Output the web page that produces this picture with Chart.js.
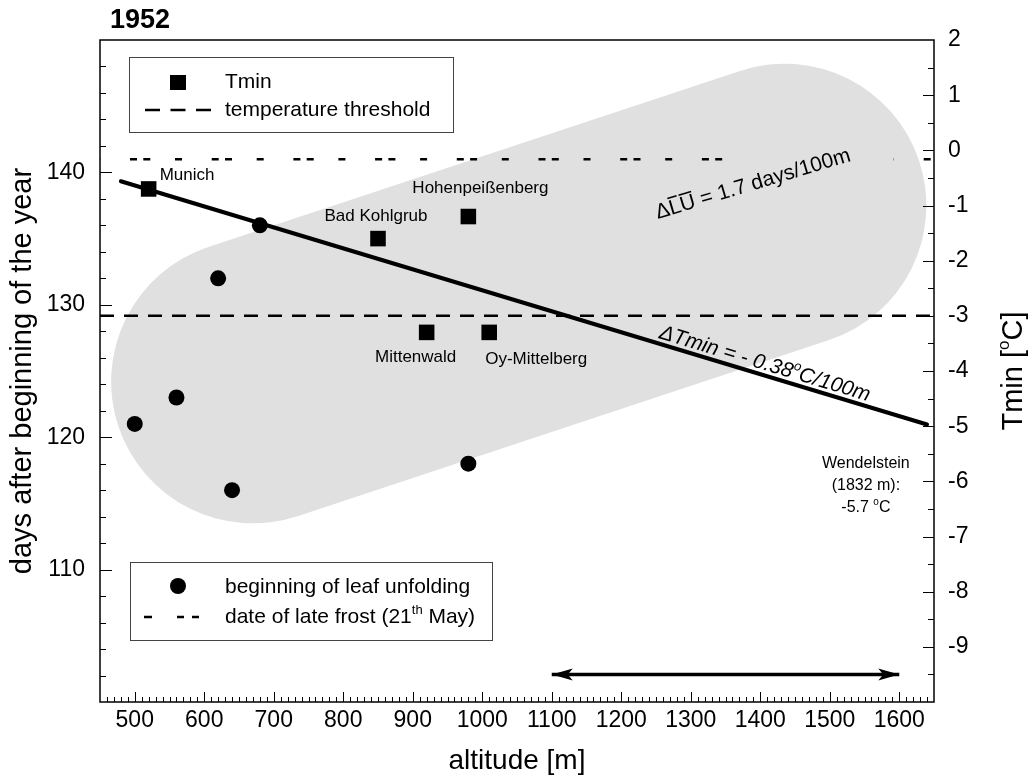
<!DOCTYPE html>
<html>
<head>
<meta charset="utf-8">
<script src="https://cdn.jsdelivr.net/npm/chart.js@4.4.0/dist/chart.umd.min.js"></script>
<style>
  html, body { margin: 0; padding: 0; background: #fff; }
  canvas { display: block; }
</style>
</head>
<body>
<canvas id="chart" width="1034" height="778"></canvas>
<script>
// phenological stations: altitude and beginning of leaf unfolding (1952)
const leafAltitude = [500, 560, 620, 640, 680, 980];
const leafDays     = [121, 123, 132, 116, 136, 118];

// climate stations: minimum temperature
const tminStations = ['Munich', 'Bad Kohlgrub', 'Mittenwald', 'Hohenpeißenberg', 'Oy-Mittelberg'];
const tminAltitude = [520, 850, 920, 980, 1010];
const tminValues   = [-0.7, -1.6, -3.3, -1.2, -3.3];

// Tmin gradient (-0.38 C per 100 m)
const trendAltitude = [480, 1640];
const trendTmin     = [-0.56, -4.97];

const frostDay      = 141;          // 21th May
const tempThreshold = -3;
const frostBreak    = [1372, 1592]; // frost line left open under the label
const arrowRange    = [1100, 1600];
const arrowLevel    = -9.5;

const altitudeTicks = [500, 600, 700, 800, 900, 1000, 1100, 1200, 1300, 1400, 1500, 1600];
const dayTicks      = [110, 120, 130, 140];
const tminTicks     = [-9, -8, -7, -6, -5, -4, -3, -2, -1, 0, 1, 2];

const FONT = "'Liberation Sans', Arial, Helvetica, sans-serif";
Chart.defaults.font.family = FONT;
Chart.defaults.color = '#000';

// grey band (altitude / days), radius in metres
const band = { from: [670, 124.2], to: [1435, 137.5], radius: 204 };

// where the station names sit relative to their square
const stationLabelPos = {
  'Munich': [11, -14, 'left'],
  'Bad Kohlgrub': [-2, -22, 'center'],
  'Hohenpeißenberg': [-56, -28, 'left'],
  'Mittenwald': [-11, 25, 'center'],
  'Oy-Mittelberg': [47, 27, 'center']
};

function drawParts(ctx, parts, x, y, size, align, style) {
  const big = (style || '') + ' ' + size + 'px ' + FONT;
  const small = (style || '') + ' ' + Math.round(size * 0.6) + 'px ' + FONT;
  let total = 0;
  const widths = parts.map(p => {
    ctx.font = p.sup ? small : big;
    const w = ctx.measureText(p.t).width;
    total += w;
    return w;
  });
  let cx = x;
  if (align === 'center') cx = x - total / 2;
  if (align === 'right') cx = x - total;
  ctx.textAlign = 'left';
  ctx.textBaseline = 'middle';
  parts.forEach((p, i) => {
    ctx.font = p.sup ? small : big;
    ctx.fillText(p.t, cx, p.sup ? y - size * 0.33 : y);
    if (p.over) {
      ctx.beginPath();
      ctx.lineWidth = 1.5;
      ctx.moveTo(cx + 1, y - size * 0.52);
      ctx.lineTo(cx + widths[i] - 1, y - size * 0.52);
      ctx.stroke();
    }
    cx += widths[i];
  });
}

function arrowHead(ctx, x, y, dir) {
  ctx.beginPath();
  ctx.moveTo(x, y);
  ctx.lineTo(x - dir * 21, y - 6);
  ctx.lineTo(x - dir * 16, y);
  ctx.lineTo(x - dir * 21, y + 6);
  ctx.closePath();
  ctx.fill();
}

function ticksOn(ctx, scale, from, to, step, len, side, a) {
  for (let v = from; v <= to + 1e-9; v += step) {
    const p = Math.round(scale.getPixelForValue(v)) + 0.5;
    ctx.beginPath();
    if (side === 'bottom') { ctx.moveTo(p, a.bottom); ctx.lineTo(p, a.bottom - len); }
    if (side === 'left')   { ctx.moveTo(a.left, p); ctx.lineTo(a.left + len, p); }
    if (side === 'right')  { ctx.moveTo(a.right, p); ctx.lineTo(a.right - len, p); }
    ctx.stroke();
  }
}

const decorations = {
  id: 'decorations',
  beforeDatasetsDraw(chart) {
    const {ctx, chartArea: a, scales: {x, y}} = chart;
    const p1 = {x: x.getPixelForValue(band.from[0]), y: y.getPixelForValue(band.from[1])};
    const p2 = {x: x.getPixelForValue(band.to[0]), y: y.getPixelForValue(band.to[1])};
    const r = x.getPixelForValue(band.from[0] + band.radius) - p1.x;
    const ang = Math.atan2(p2.y - p1.y, p2.x - p1.x);
    ctx.save();
    ctx.beginPath();
    ctx.rect(a.left, a.top, a.width, a.height);
    ctx.clip();
    ctx.fillStyle = '#e0e0e0';
    ctx.beginPath();
    ctx.arc(p2.x, p2.y, r, ang - Math.PI / 2, ang + Math.PI / 2);
    ctx.arc(p1.x, p1.y, r, ang + Math.PI / 2, ang + 3 * Math.PI / 2);
    ctx.closePath();
    ctx.fill();
    ctx.restore();
  },
  afterDatasetsDraw(chart) {
    const {ctx, chartArea: a, scales: {x, y, y2}} = chart;
    ctx.save();
    ctx.fillStyle = '#000';
    ctx.strokeStyle = '#000';

    // arrow heads on the range arrow
    const arrowPts = chart.getDatasetMeta(5).data;
    arrowHead(ctx, arrowPts[0].x, arrowPts[0].y, -1);
    arrowHead(ctx, arrowPts[1].x, arrowPts[1].y, 1);

    // frame and inward ticks
    ctx.lineWidth = 1.5;
    ctx.strokeRect(a.left, a.top, a.width, a.height);
    ctx.lineWidth = 1;
    ticksOn(ctx, x, 460, 1640, 10, 5, 'bottom', a);
    ticksOn(ctx, x, 500, 1600, 100, 10, 'bottom', a);
    ticksOn(ctx, y, 102, 148, 2, 6, 'left', a);
    ticksOn(ctx, y, 110, 140, 10, 12, 'left', a);
    ticksOn(ctx, y2, -9.5, 1.5, 0.5, 6, 'right', a);
    ticksOn(ctx, y2, -9, 1, 1, 11, 'right', a);

    // station names
    const sq = chart.getDatasetMeta(1).data;
    tminStations.forEach((name, i) => {
      const o = stationLabelPos[name];
      drawParts(ctx, [{t: name}], sq[i].x + o[0], sq[i].y + o[1], 17, o[2]);
    });

    // Wendelstein note
    const wx = x.getPixelForValue(1552), wy = y2.getPixelForValue(-5.67);
    drawParts(ctx, [{t: 'Wendelstein'}], wx, wy, 16, 'center');
    drawParts(ctx, [{t: '(1832 m):'}], wx, wy + 22, 16, 'center');
    drawParts(ctx, [{t: '-5.7 '}, {t: 'o', sup: true}, {t: 'C'}], wx, wy + 44, 16, 'center');

    // gradient of leaf unfolding
    ctx.save();
    ctx.translate(x.getPixelForValue(1253), y.getPixelForValue(136.4));
    ctx.rotate(-16.7 * Math.PI / 180);
    drawParts(ctx, [{t: 'Δ'}, {t: 'L', over: true}, {t: 'U', over: true}, {t: ' = 1.7 days/100m'}], 0, -7, 21, 'left');
    ctx.restore();

    // gradient of Tmin, written along the trend line
    const t0 = {x: x.getPixelForValue(trendAltitude[0]), y: y2.getPixelForValue(trendTmin[0])};
    const t1 = {x: x.getPixelForValue(trendAltitude[1]), y: y2.getPixelForValue(trendTmin[1])};
    const tAng = Math.atan2(t1.y - t0.y, t1.x - t0.x);
    const along = 1251;
    const tf = (along - trendAltitude[0]) / (trendAltitude[1] - trendAltitude[0]);
    ctx.save();
    ctx.translate(t0.x + (t1.x - t0.x) * tf, t0.y + (t1.y - t0.y) * tf);
    ctx.rotate(tAng);
    drawParts(ctx, [{t: 'ΔTmin = - 0.38'}, {t: 'o', sup: true}, {t: 'C/100m'}], 0, -11, 21, 'left', 'italic');
    ctx.restore();

    // legends
    ctx.lineWidth = 1;
    ctx.strokeStyle = '#444';
    ctx.strokeRect(a.left + 29.5, a.top + 17.5, 324, 75);
    ctx.strokeRect(a.left + 30.5, a.top + 522.5, 362, 78);
    ctx.strokeStyle = '#000';
    ctx.fillRect(a.left + 70, a.top + 35, 16, 15);
    drawParts(ctx, [{t: 'Tmin'}], a.left + 125, a.top + 42, 21, 'left');
    ctx.lineWidth = 2.5;
    ctx.setLineDash([15, 10.5]);
    ctx.beginPath();
    ctx.moveTo(a.left + 45, a.top + 70);
    ctx.lineTo(a.left + 111, a.top + 70);
    ctx.stroke();
    drawParts(ctx, [{t: 'temperature threshold'}], a.left + 125, a.top + 70, 21, 'left');

    ctx.setLineDash([]);
    ctx.beginPath();
    ctx.arc(a.left + 78, a.top + 546, 8, 0, Math.PI * 2);
    ctx.fill();
    drawParts(ctx, [{t: 'beginning of leaf unfolding'}], a.left + 125, a.top + 547, 21, 'left');
    ctx.setLineDash([8, 25, 7, 8, 7, 50]);
    ctx.beginPath();
    ctx.moveTo(a.left + 44, a.top + 577);
    ctx.lineTo(a.left + 99, a.top + 577);
    ctx.stroke();
    ctx.setLineDash([]);
    drawParts(ctx, [{t: 'date of late frost (21'}, {t: 'th', sup: true}, {t: ' May)'}], a.left + 125, a.top + 577, 21, 'left');

    ctx.restore();
  },
  afterDraw(chart) {
    const {ctx, chartArea: a} = chart;
    ctx.save();
    ctx.fillStyle = '#000';
    drawParts(ctx, [{t: '1952'}], 110, 21, 27, 'left', 'bold');
    // right axis title reads bottom to top
    ctx.translate(1014, (a.top + a.bottom) / 2);
    ctx.rotate(-Math.PI / 2);
    drawParts(ctx, [{t: 'Tmin ['}, {t: 'o', sup: true}, {t: 'C]'}], 0, 0, 29, 'center');
    ctx.restore();
  }
};

const frostLine = [
  {x: 450, y: frostDay}, {x: frostBreak[0], y: frostDay},
  {x: (frostBreak[0] + frostBreak[1]) / 2, y: null},
  {x: frostBreak[1], y: frostDay}, {x: 1650, y: frostDay}
];

new Chart(document.getElementById('chart'), {
  type: 'scatter',
  data: {
    datasets: [
      {
        label: 'beginning of leaf unfolding',
        data: leafAltitude.map((v, i) => ({x: v, y: leafDays[i]})),
        yAxisID: 'y',
        pointStyle: 'circle',
        pointRadius: 8,
        pointBorderWidth: 0,
        backgroundColor: '#000'
      },
      {
        label: 'Tmin',
        data: tminAltitude.map((v, i) => ({x: v, y: tminValues[i]})),
        yAxisID: 'y2',
        pointStyle: 'rect',
        pointRadius: 11,
        pointBorderWidth: 0,
        backgroundColor: '#000'
      },
      {
        label: 'Tmin gradient',
        data: trendAltitude.map((v, i) => ({x: v, y: trendTmin[i]})),
        yAxisID: 'y2',
        showLine: true,
        borderColor: '#000',
        borderWidth: 4,
        borderCapStyle: 'round',
        pointRadius: 0
      },
      {
        label: 'date of late frost',
        data: frostLine,
        yAxisID: 'y',
        showLine: true,
        spanGaps: false,
        borderColor: '#000',
        borderWidth: 2.5,
        borderDash: [7, 6.3, 7, 24.7, 7, 29.7],
        borderDashOffset: 51.7,
        pointRadius: 0
      },
      {
        label: 'temperature threshold',
        data: [{x: 450, y: tempThreshold}, {x: 1650, y: tempThreshold}],
        yAxisID: 'y2',
        showLine: true,
        borderColor: '#000',
        borderWidth: 2.5,
        borderDash: [14, 10],
        pointRadius: 0
      },
      {
        label: 'range',
        data: arrowRange.map(v => ({x: v, y: arrowLevel})),
        yAxisID: 'y2',
        showLine: true,
        borderColor: '#000',
        borderWidth: 3.5,
        pointRadius: 0
      }
    ]
  },
  options: {
    responsive: false,
    animation: false,
    events: [],
    layout: { padding: { top: 40, left: 0, right: 0, bottom: 0 } },
    plugins: {
      legend: { display: false },
      tooltip: { enabled: false }
    },
    scales: {
      x: {
        type: 'linear',
        position: 'bottom',
        min: 450,
        max: 1650,
        afterBuildTicks: s => { s.ticks = altitudeTicks.map(v => ({value: v})); },
        afterFit: s => { s.height = 76; },
        grid: { display: false, drawTicks: false },
        border: { display: false },
        ticks: { font: { size: 23 }, color: '#000', padding: 5, maxRotation: 0, autoSkip: false, callback: v => String(v) },
        title: { display: true, text: 'altitude [m]', font: { size: 28 }, color: '#000', padding: { top: 0, bottom: 0 } }
      },
      y: {
        type: 'linear',
        position: 'left',
        min: 100,
        max: 150,
        afterBuildTicks: s => { s.ticks = dayTicks.map(v => ({value: v})); },
        afterFit: s => { s.width = 100; },
        grid: { display: false, drawTicks: false },
        border: { display: false },
        ticks: { font: { size: 23 }, color: '#000', padding: 15, callback: v => String(v) },
        title: { display: true, text: 'days after beginning of the year', font: { size: 29 }, color: '#000', padding: { top: 6, bottom: 0 } }
      },
      y2: {
        type: 'linear',
        position: 'right',
        min: -10,
        max: 2,
        afterBuildTicks: s => { s.ticks = tminTicks.map(v => ({value: v})); },
        afterFit: s => { s.width = 100; },
        grid: { display: false, drawTicks: false },
        border: { display: false },
        ticks: { font: { size: 23 }, color: '#000', padding: 14, callback: v => String(v) }
      }
    }
  },
  plugins: [decorations]
});
</script>
</body>
</html>
